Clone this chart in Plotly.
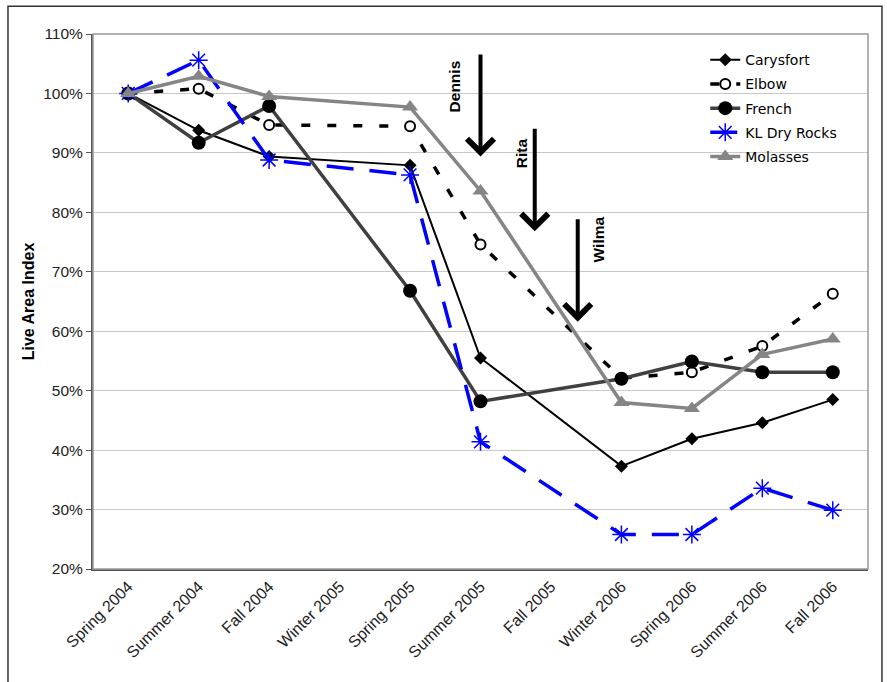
import plotly.graph_objects as go

categories = ["Spring 2004", "Summer 2004", "Fall 2004", "Winter 2005", "Spring 2005",
              "Summer 2005", "Fall 2005", "Winter 2006", "Spring 2006", "Summer 2006", "Fall 2006"]

carysfort = [100, 93.8, 89.4, None, 87.9, 55.5, None, 37.3, 41.9, 44.6, 48.5]
elbow = [100, 100.8, 94.7, None, 94.5, 74.6, None, 52.1, 53.1, 57.5, 66.3]
french = [100, 91.7, 97.9, None, 66.8, 48.2, None, 52.0, 54.9, 53.1, 53.1]
kl_dry_rocks = [100, 105.6, 88.8, None, 86.3, 41.4, None, 25.8, 25.8, 33.6, 29.9]
molasses = [100, 102.9, 99.5, None, 97.7, 83.6, None, 48.0, 47.0, 56.1, 58.7]

y_ticks = [20, 30, 40, 50, 60, 70, 80, 90, 100, 110]

hurricanes = ["Dennis", "Rita", "Wilma"]
hurr_x = [5.0, 5.77, 6.38]
hurr_top = [106.8, 94.3, 79.1]
hurr_tip = [89.4, 76.8, 61.6]
label_y = [101.1, 89.9, 75.4]

fig = go.Figure()

fig.add_trace(go.Scatter(x=categories, y=carysfort, name="Carysfort", mode="lines+markers",
                         connectgaps=True, legendgroup="a",
                         line=dict(color="black", width=2),
                         marker=dict(symbol="diamond", size=10, color="black")))
fig.add_trace(go.Scatter(x=categories, y=elbow, name="Elbow", mode="lines+markers",
                         connectgaps=True, legendgroup="b",
                         line=dict(color="black", width=3.5, dash="9px,17px"),
                         marker=dict(symbol="circle", size=10, color="white",
                                     line=dict(color="black", width=2))))
fig.add_trace(go.Scatter(x=categories, y=french, name="French", mode="lines+markers",
                         connectgaps=True, legendgroup="c",
                         line=dict(color="#404040", width=3.5),
                         marker=dict(symbol="circle", size=14, color="black")))
fig.add_trace(go.Scatter(x=categories, y=kl_dry_rocks, name="KL Dry Rocks", mode="lines+markers",
                         connectgaps=True, legendgroup="d",
                         line=dict(color="#0000ff", width=3.5, dash="27px,16px"),
                         marker=dict(symbol="asterisk-open", size=15,
                                     line=dict(color="#0000ff", width=1.5))))
fig.add_trace(go.Scatter(x=categories, y=molasses, name="Molasses", mode="lines+markers",
                         connectgaps=True, legendgroup="e",
                         line=dict(color="#858585", width=3.5),
                         marker=dict(symbol="triangle-up", size=14, color="#858585")))

annotations = []
for name, hx, top, tip in zip(hurricanes, hurr_x, hurr_top, hurr_tip):
    annotations.append(dict(x=hx, y=tip, xref="x", yref="y", ax=hx, ay=top,
                            axref="x", ayref="y", text="", showarrow=True,
                            arrowhead=4, arrowsize=1.3, arrowwidth=4, arrowcolor="black"))

label_dx = [-26, -13, 21]
for name, hx, dx, ly in zip(hurricanes, hurr_x, label_dx, label_y):
    annotations.append(dict(x=hx, y=ly, xref="x", yref="y", xshift=dx, text="<b>%s</b>" % name,
                            showarrow=False, textangle=-90,
                            font=dict(family="Liberation Sans, Arial", size=15.5, color="black")))

fig.update_layout(
    width=887, height=682,
    margin=dict(l=93, r=19, t=34, b=113),
    paper_bgcolor="white", plot_bgcolor="white",
    font=dict(family="Liberation Sans, Arial", size=15, color="#222"),
    showlegend=True,
    legend=dict(x=0.79, y=0.981, xanchor="left", yanchor="top",
                bgcolor="rgba(0,0,0,0)", borderwidth=0,
                font=dict(family="DejaVu Sans", size=14, color="black"),
                tracegroupgap=3, traceorder="grouped"),
    annotations=annotations,
    shapes=[
        dict(type="rect", xref="paper", yref="paper", x0=-0.1097, x1=1.018, y0=-0.3, y1=1.052,
             line=dict(color="#333", width=1.5), layer="below"),
        dict(type="rect", xref="paper", yref="paper", x0=0.741, x1=0.987, y0=0.746, y1=0.989,
             fillcolor="white", line=dict(width=0), layer="between"),
        dict(type="rect", xref="paper", yref="paper", x0=0, x1=1, y0=0, y1=1,
             line=dict(color="#999", width=1.5), layer="above"),
    ],
)

fig.update_xaxes(type="category", categoryorder="array", categoryarray=categories,
                 range=[-0.5, 10.5], tickangle=-45, showgrid=False,
                 showline=True, linecolor="#555", linewidth=2, ticks="",
                 tickfont=dict(family="Liberation Sans, Arial", size=16, color="#222"))
fig.update_yaxes(range=[20, 110], tickvals=y_ticks, ticktext=["%d%%" % v for v in y_ticks],
                 showgrid=True, gridcolor="#c8c8c8", gridwidth=1.3,
                 showline=True, linecolor="#555", linewidth=2,
                 ticks="outside", ticklen=5, tickcolor="#555",
                 zeroline=False,
                 title=dict(text="<b>Live Area Index</b>", standoff=5,
                            font=dict(family="Liberation Sans, Arial", size=16, color="black")),
                 tickfont=dict(family="Liberation Sans, Arial", size=15.5, color="#222"))

fig.write_html("out.html", config={"displayModeBar": False},
               post_script="document.body.style.margin='0px';document.body.style.overflow='hidden';")
